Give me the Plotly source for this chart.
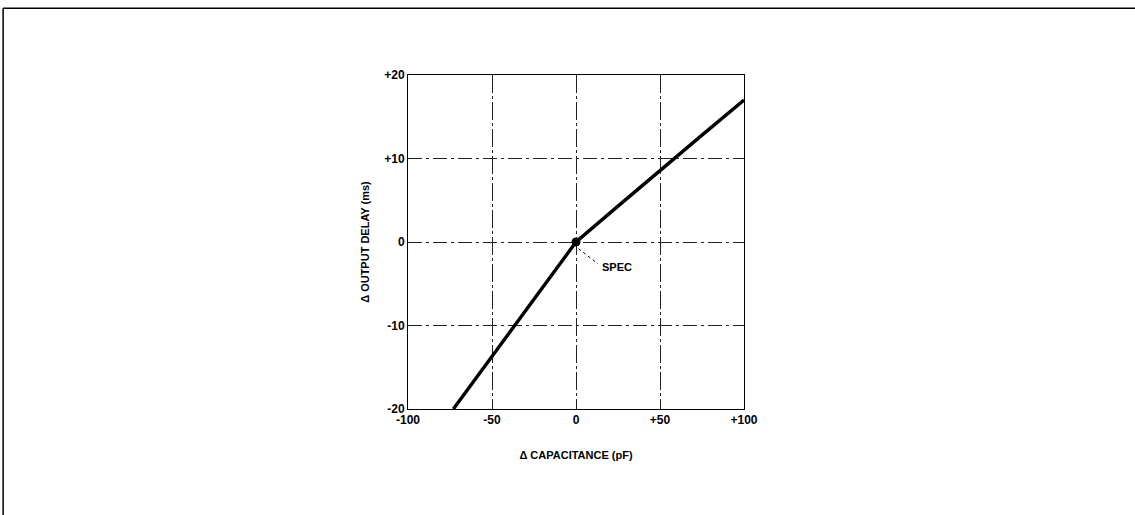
import plotly.graph_objects as go

# Data
capacitance = [-73, -50, -25, 0, 25, 50, 75, 100]
delay = [-20, -13.7, -6.85, 0, 4.3, 8.6, 12.8, 17]
spec_x = [0]
spec_y = [0]
x_ticks = [-100, -50, 0, 50, 100]
x_tick_labels = ["-100", "-50", "0", "+50", "+100"]
y_ticks = [-20, -10, 0, 10, 20]
y_tick_labels = ["-20", "-10", "0", "+10", "+20"]

fig = go.Figure()
fig.add_trace(go.Scatter(x=capacitance, y=delay, mode="lines",
                         line=dict(color="black", width=3.4), showlegend=False))
fig.add_trace(go.Scatter(x=spec_x, y=spec_y, mode="markers",
                         marker=dict(color="black", size=9), showlegend=False))

# SPEC leader (dotted) and label
fig.add_shape(type="line", x0=1.5, y0=-0.8, x1=13, y1=-2.6, xref="x", yref="y",
              line=dict(color="black", width=1, dash="dot"))
fig.add_annotation(x=14, y=-3, text="<b>SPEC</b>", showarrow=False, xanchor="left",
                   yanchor="middle", font=dict(family="Arial", size=11, color="black"))

# page frame (top and left edges)
fig.add_shape(type="line", xref="paper", yref="paper", x0=-1.205, y0=1.2, x1=2.2, y1=1.2,
              line=dict(color="black", width=1.5))
fig.add_shape(type="line", xref="paper", yref="paper", x0=-1.205, y0=1.2, x1=-1.205, y1=-0.33,
              line=dict(color="black", width=1.5))

fig.update_xaxes(range=[-100, 100], tickvals=x_ticks, ticktext=[f"<b>{t}</b>" for t in x_tick_labels],
                 showgrid=True, gridcolor="#222", gridwidth=1, griddash="18px,3px,3px,3px",
                 zeroline=False, showline=True, linecolor="black", linewidth=1, mirror=True,
                 ticks="", tickfont=dict(family="Arial", size=12, color="black"),
                 title=dict(text="<b>Δ CAPACITANCE (pF)</b>",
                            font=dict(family="Arial", size=11, color="black"), standoff=24))
fig.update_yaxes(range=[-20, 20], tickvals=y_ticks, ticktext=[f"<b>{t}</b>" for t in y_tick_labels],
                 showgrid=True, gridcolor="#222", gridwidth=1, griddash="14px,4px,3px,4px",
                 zeroline=False, showline=True, linecolor="black", linewidth=1, mirror=True,
                 ticks="", tickfont=dict(family="Arial", size=12, color="black"),
                 title=dict(text="<b>Δ OUTPUT DELAY (ms)</b>",
                            font=dict(family="Arial", size=11, color="black"), standoff=12))

fig.update_layout(width=1135, height=515, margin=dict(l=408, r=391, t=75, b=106),
                  plot_bgcolor="white", paper_bgcolor="white")

fig.write_html("out.html", config={"displayModeBar": False},
               post_script="document.body.style.margin='0';document.body.style.overflow='hidden';")
